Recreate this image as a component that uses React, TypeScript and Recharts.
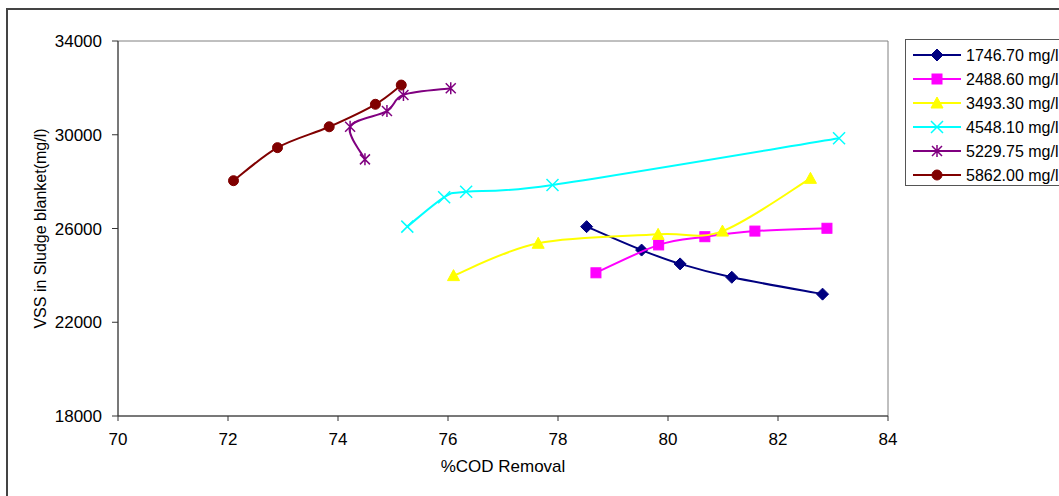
import React from 'react';
import { ScatterChart, Scatter, XAxis, YAxis, ReferenceArea } from 'recharts';

// %COD removal (x) and VSS in sludge blanket (y) for each influent COD
const seriesNames = ['1746.70 mg/l', '2488.60 mg/l', '3493.30 mg/l', '4548.10 mg/l', '5229.75 mg/l', '5862.00 mg/l'];
const seriesColors = ['#000080', '#FF00FF', '#FFFF00', '#00FFFF', '#800080', '#800000'];
const seriesMarkers = ['diamond', 'square', 'triangle', 'cross', 'star', 'circle'];

const cod1746 = [
  { x: 78.52, y: 26080 },
  { x: 79.52, y: 25080 },
  { x: 80.22, y: 24490 },
  { x: 81.16, y: 23920 },
  { x: 82.81, y: 23200 },
];
const cod2488 = [
  { x: 78.69, y: 24110 },
  { x: 79.83, y: 25300 },
  { x: 80.67, y: 25650 },
  { x: 81.58, y: 25890 },
  { x: 82.89, y: 26010 },
];
const cod3493 = [
  { x: 76.1, y: 23990 },
  { x: 77.64, y: 25370 },
  { x: 79.82, y: 25750 },
  { x: 80.99, y: 25890 },
  { x: 82.59, y: 28140 },
];
const cod4548 = [
  { x: 75.26, y: 26080 },
  { x: 75.93, y: 27330 },
  { x: 76.33, y: 27570 },
  { x: 77.9, y: 27860 },
  { x: 83.11, y: 29850 },
];
const cod5229 = [
  { x: 74.49, y: 28950 },
  { x: 74.22, y: 30340 },
  { x: 74.89, y: 31010 },
  { x: 75.19, y: 31700 },
  { x: 76.05, y: 31980 },
];
const cod5862 = [
  { x: 72.1, y: 28040 },
  { x: 72.9, y: 29450 },
  { x: 73.84, y: 30340 },
  { x: 74.68, y: 31300 },
  { x: 75.15, y: 32120 },
];
const seriesData = [cod1746, cod2488, cod3493, cod4548, cod5229, cod5862];

const xTicks = [70, 72, 74, 76, 78, 80, 82, 84];
const yTicks = [18000, 22000, 26000, 30000, 34000];

const FONT = '"Liberation Sans", Arial, sans-serif';

// Excel-like smoothed line (catmull-rom style bezier)
const smoothCurve: any = (context: any) => {
  let pts: number[][] = [];
  return {
    areaStart() {},
    areaEnd() {},
    lineStart() {
      pts = [];
    },
    point(x: number, y: number) {
      pts.push([+x, +y]);
    },
    lineEnd() {
      if (!pts.length) return;
      context.moveTo(pts[0][0], pts[0][1]);
      for (let i = 0; i < pts.length - 1; i++) {
        const p0 = pts[i - 1] || pts[i];
        const p1 = pts[i];
        const p2 = pts[i + 1];
        const p3 = pts[i + 2] || p2;
        context.bezierCurveTo(
          p1[0] + (p2[0] - p0[0]) / 6,
          p1[1] + (p2[1] - p0[1]) / 6,
          p2[0] - (p3[0] - p1[0]) / 6,
          p2[1] - (p3[1] - p1[1]) / 6,
          p2[0],
          p2[1]
        );
      }
    },
  };
};

function Marker({ kind, cx, cy, color }: { kind: string; cx: number; cy: number; color: string }) {
  switch (kind) {
    case 'diamond':
      return <path d={`M${cx},${cy - 6}L${cx + 6},${cy}L${cx},${cy + 6}L${cx - 6},${cy}Z`} fill={color} stroke={color} />;
    case 'square':
      return <rect x={cx - 5} y={cy - 5} width={10} height={10} fill={color} stroke={color} />;
    case 'triangle':
      return <path d={`M${cx},${cy - 6}L${cx + 6},${cy + 5}L${cx - 6},${cy + 5}Z`} fill={color} stroke={color} />;
    case 'cross':
      return (
        <path d={`M${cx - 6},${cy - 6}L${cx + 6},${cy + 6}M${cx - 6},${cy + 6}L${cx + 6},${cy - 6}`} stroke={color} strokeWidth={1.5} fill="none" />
      );
    case 'star':
      return (
        <path
          d={`M${cx - 5},${cy - 5}L${cx + 5},${cy + 5}M${cx - 5},${cy + 5}L${cx + 5},${cy - 5}M${cx},${cy - 6}L${cx},${cy + 6}`}
          stroke={color}
          strokeWidth={1.5}
          fill="none"
        />
      );
    default:
      return <circle cx={cx} cy={cy} r={5} fill={color} stroke={color} />;
  }
}

function LegendBox() {
  return (
    <div
      style={{
        position: 'absolute',
        left: 905,
        top: 39,
        width: 200,
        height: 145,
        border: '1px solid #555',
        background: '#fff',
      }}
    >
      <svg width={200} height={145} style={{ display: 'block' }}>
        {seriesNames.map((name, i) => {
          const y = 15 + i * 24;
          return (
            <g key={name}>
              <line x1={7} x2={55} y1={y} y2={y} stroke={seriesColors[i]} strokeWidth={2} />
              <Marker kind={seriesMarkers[i]} cx={31} cy={y} color={seriesColors[i]} />
              <text x={60} y={y + 6} fontSize={16} fontFamily={FONT} fill="#000">
                {name}
              </text>
            </g>
          );
        })}
      </svg>
    </div>
  );
}

export default function App() {
  return (
    <div style={{ position: 'absolute', left: 0, top: 0, width: 1059, height: 496, overflow: 'hidden', background: '#fff' }}>
      <div
        style={{
          position: 'absolute',
          left: 6,
          top: 8,
          width: 1200,
          height: 700,
          border: '2px solid #444',
          boxSizing: 'border-box',
        }}
      />
      <div style={{ position: 'absolute', left: 0, top: 0 }}>
        <ScatterChart width={1059} height={496} margin={{ top: 41, right: 171, bottom: 10, left: 18 }}>
          <XAxis
            type="number"
            dataKey="x"
            domain={[70, 84]}
            ticks={xTicks}
            allowDataOverflow
            height={70}
            tickSize={5}
            tickMargin={12}
            stroke="#333"
            tick={{ fill: '#000', fontSize: 17, fontFamily: FONT }}
            label={{
              content: ({ viewBox }: any) => (
                <text x={viewBox.x + viewBox.width / 2} y={viewBox.y + 56} textAnchor="middle" fontSize={17} fontFamily={FONT} fill="#000">
                  %COD Removal
                </text>
              ),
            }}
          />
          <YAxis
            type="number"
            dataKey="y"
            domain={[18000, 34000]}
            ticks={yTicks}
            allowDataOverflow
            width={100}
            tickSize={6}
            tickMargin={10}
            stroke="#333"
            tick={{ fill: '#000', fontSize: 17, fontFamily: FONT }}
            label={{
              content: ({ viewBox }: any) => {
                const cx = viewBox.x + 22;
                const cy = viewBox.y + viewBox.height / 2;
                return (
                  <text x={cx} y={cy} transform={`rotate(-90 ${cx} ${cy})`} textAnchor="middle" dominantBaseline="central" fontSize={16} fontFamily={FONT} fill="#000">
                    VSS in Sludge blanket(mg/l)
                  </text>
                );
              },
            }}
          />
          <ReferenceArea x1={70} x2={84} y1={18000} y2={34000} fill="none" stroke="#808080" strokeWidth={1} ifOverflow="visible" />
          {seriesData.map((data, i) => (
            <Scatter
              key={seriesNames[i]}
              name={seriesNames[i]}
              data={data}
              fill={seriesColors[i]}
              line={{ stroke: seriesColors[i], strokeWidth: 2 }}
              lineJointType={smoothCurve}
              isAnimationActive={false}
              shape={(p: any) => <Marker kind={seriesMarkers[i]} cx={p.cx} cy={p.cy} color={seriesColors[i]} />}
            />
          ))}
        </ScatterChart>
      </div>
      <LegendBox />
    </div>
  );
}
